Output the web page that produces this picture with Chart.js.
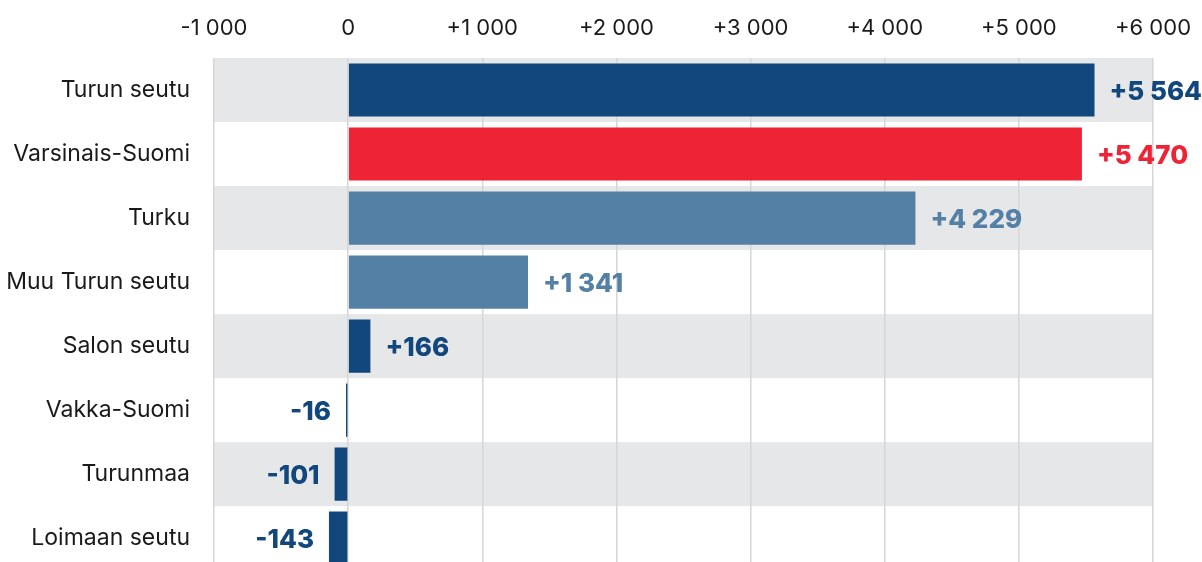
<!DOCTYPE html>
<html><head><meta charset="utf-8">
<script src="https://cdn.jsdelivr.net/npm/chart.js@4/dist/chart.umd.min.js"></script>
<style>html,body{margin:0;padding:0;overflow:hidden;background:#fff}#wrap{width:1202px;height:562px;overflow:hidden}</style>
</head><body><div id="wrap"><canvas id="c" width="1202" height="608"></canvas></div>
<script>
const categories = ["Turun seutu","Varsinais-Suomi","Turku","Muu Turun seutu","Salon seutu","Vakka-Suomi","Turunmaa","Loimaan seutu"];
const values = [5564, 5470, 4229, 1341, 166, -16, -101, -143];
const barColors = ["#11477c","#ee2436","#5480a6","#5480a6","#11477c","#11477c","#11477c","#11477c"];
const tickValues = [-1000,0,1000,2000,3000,4000,5000,6000];

function fmt(v){
  const s = Math.abs(v).toString().replace(/\B(?=(\d{3})+(?!\d))/g, " ");
  return (v>0?"+":v<0?"-":"")+s;
}

const bandPlugin = {
  id:'bands',
  beforeDraw(chart){
    const {ctx, chartArea:a, scales:{y}} = chart;
    ctx.save();
    ctx.fillStyle = '#e6e7e9';
    categories.forEach((c,i)=>{
      if(i%2===0){
        const t = y.getPixelForValue(i-0.5), b = y.getPixelForValue(i+0.5);
        ctx.fillRect(a.left, t, a.right-a.left, b-t);
      }
    });
    ctx.restore();
  }
};
const labelPlugin = {
  id:'vlabels',
  afterDatasetsDraw(chart){
    const {ctx} = chart;
    const meta = chart.getDatasetMeta(0);
    ctx.save();
    ctx.font = '800 26px Inter';
    ctx.textBaseline = 'middle';
    meta.data.forEach((bar,i)=>{
      const v = values[i];
      ctx.fillStyle = barColors[i];
      if(v>=0){ ctx.textAlign='left'; ctx.fillText(fmt(v), bar.x+15, bar.y+2); }
      else { ctx.textAlign='right'; ctx.fillText(fmt(v), bar.x-15, bar.y+2); }
    });
    ctx.restore();
  }
};

new Chart(document.getElementById('c'), {
  type:'bar',
  data:{ labels: categories, datasets:[{ data: values, backgroundColor: barColors, barPercentage:0.83, categoryPercentage:1 }]},
  options:{
    indexAxis:'y', responsive:false, animation:false,
    layout:{ padding:{ left:0, right:49, top:0, bottom:0 } },
    plugins:{ legend:{display:false}, tooltip:{enabled:false} },
    scales:{
      x:{ position:'top', min:-1000, max:6000,
          afterBuildTicks(s){ s.ticks = tickValues.map(v=>({value:v})); },
          afterFit(s){ s.height = 58; s.paddingLeft = 0; s.paddingRight = 0; },
          grid:{ color:'#d6d6d6', lineWidth:1.5, drawTicks:false },
          border:{ display:false },
          ticks:{ padding:16, color:'#1a1a1a', font:{family:'Inter', size:22}, callback:(v)=>fmt(v) } },
      y:{ afterFit(s){ s.width = 214; },
          grid:{ display:false, drawTicks:false }, border:{display:false},
          ticks:{ padding:24, color:'#1a1a1a', font:{family:'Inter', size:23} } }
    }
  },
  plugins:[bandPlugin, labelPlugin]
});
</script></body></html>
